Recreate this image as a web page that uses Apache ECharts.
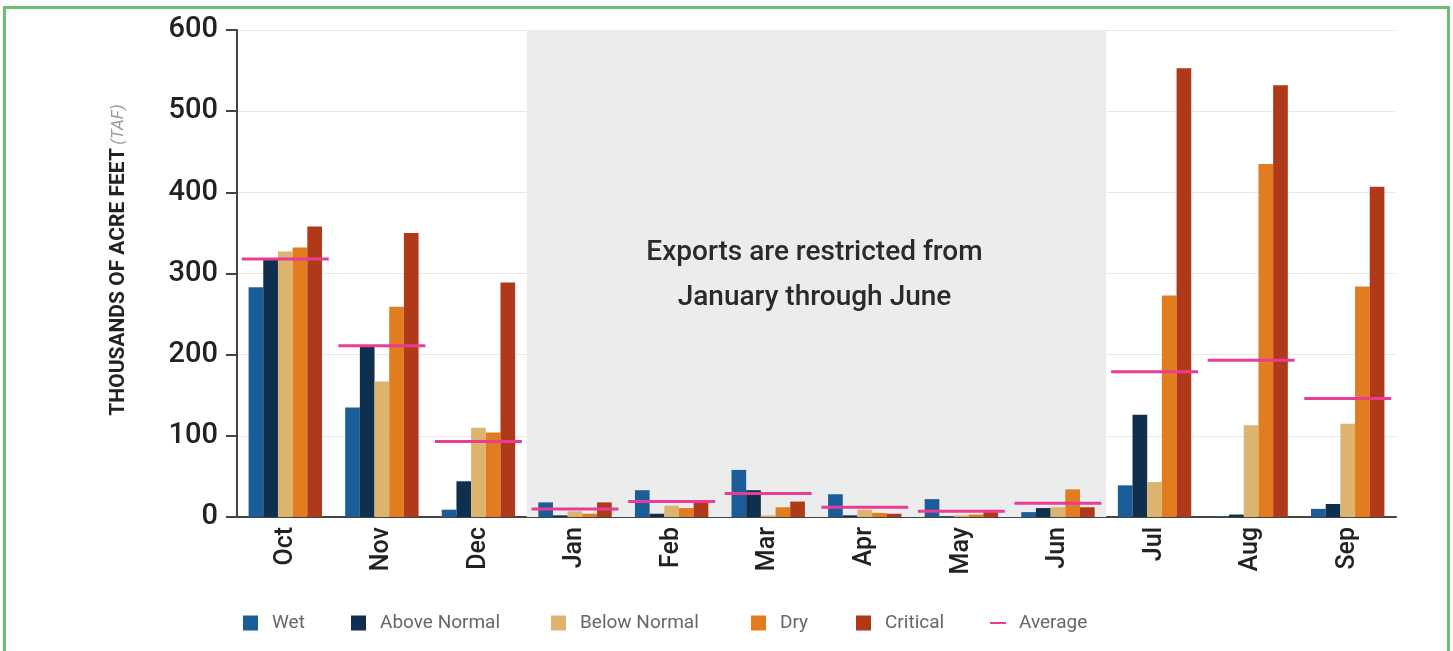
<!DOCTYPE html>
<html>
<head>
<meta charset="utf-8">
<script src="https://cdn.jsdelivr.net/npm/echarts@6/dist/echarts.min.js"></script>
<style>
html,body{margin:0;padding:0;background:#fff;}
#chart{position:absolute;left:0;top:0;width:1453px;height:651px;}
#frame{position:absolute;left:3px;top:6px;width:1441px;height:660px;border:3px solid #6dbf72;pointer-events:none;}
</style>
</head>
<body>
<div id="chart"></div>
<div id="frame"></div>
<script>
const months = ['Oct','Nov','Dec','Jan','Feb','Mar','Apr','May','Jun','Jul','Aug','Sep'];
const wet         = [283, 135,   9, 18, 33, 58, 28, 22,  6,  39,   1,  10];
const aboveNormal = [317, 211,  44,  2,  4, 33,  2,  1, 11, 126,   3,  16];
const belowNormal = [327, 167, 110,  7, 14,  2,  9,  2, 12,  43, 113, 115];
const dry         = [332, 259, 104,  4, 11, 12,  5,  3, 34, 273, 435, 284];
const critical    = [358, 350, 289, 18, 18, 19,  4,  6, 12, 553, 532, 407];
const average     = [318, 211,  93, 10, 19, 29, 12,  7, 17, 179, 193, 146];
const yMin = 0, yMax = 600, yInterval = 100;
const restrictedFrom = 'Jan', restrictedTo = 'Jun';
const restrictedText = 'Exports are restricted from\nJanuary through June';

const FONT = "'Roboto', sans-serif";
const colors = {
  'Wet': '#1a5d98',
  'Above Normal': '#0f2f4e',
  'Below Normal': '#ddb46e',
  'Dry': '#e27d1f',
  'Critical': '#b0391a',
  'Average': '#ea3c95'
};

const chart = echarts.init(document.getElementById('chart'));

function barSeries(name, data) {
  return {
    name, type: 'bar', data,
    barGap: '0%', barCategoryGap: '24%',
    itemStyle: { color: colors[name] },
    z: 3
  };
}

function legendFor(name, left, isLine) {
  return {
    data: [{ name, icon: 'rect' }],
    left, top: 613, padding: 0,
    itemWidth: isLine ? 16 : 15,
    itemHeight: isLine ? 2 : 15,
    selectedMode: false,
    textStyle: { fontFamily: FONT, fontSize: 19, color: '#666', lineHeight: 20, padding: [0, 0, 0, isLine ? 8 : 9] }
  };
}

const option = {
  animation: false,
  grid: { left: 237, right: 57, top: 30, bottom: 134, containLabel: false },
  legend: [
    legendFor('Wet', 243),
    legendFor('Above Normal', 351),
    legendFor('Below Normal', 551),
    legendFor('Dry', 751),
    legendFor('Critical', 856),
    legendFor('Average', 990, true)
  ],
  xAxis: {
    type: 'category', data: months,
    axisLine: { lineStyle: { color: '#444', width: 2 } },
    axisTick: { show: false },
    axisLabel: { rotate: 90, fontFamily: FONT, fontWeight: 500, fontSize: 25, color: '#222', margin: 10 }
  },
  yAxis: {
    type: 'value', min: yMin, max: yMax, interval: yInterval,
    name: '{b|THOUSANDS OF ACRE FEET} {i|(TAF)}',
    nameLocation: 'middle', nameGap: 108,
    nameTextStyle: {
      padding: [0, 0, 0, 27],
      rich: {
        b: { fontFamily: FONT, fontWeight: 'bold', fontSize: 21, color: '#222' },
        i: { fontFamily: FONT, fontStyle: 'italic', fontSize: 17, color: '#9a9a9a' }
      }
    },
    axisLine: { show: true, lineStyle: { color: '#444', width: 2 } },
    axisTick: { show: true, length: 11, lineStyle: { color: '#444', width: 2 } },
    axisLabel: { fontFamily: FONT, fontWeight: 500, fontSize: 29, color: '#222', margin: 19 },
    splitLine: { lineStyle: { color: '#e8e8e8', width: 1 } }
  },
  series: [
    {
      name: 'restricted', type: 'custom', z: 1, silent: true,
      data: [[months.indexOf(restrictedFrom), months.indexOf(restrictedTo)]],
      encode: { x: [0, 1] },
      renderItem: function (params, api) {
        const half = api.size([1, 0])[0] / 2;
        const pTop = api.coord([api.value(0), yMax]);
        const pBot = api.coord([api.value(1), yMin]);
        const x0 = pTop[0] - half, x1 = pBot[0] + half;
        const mid = api.coord([api.value(0), 298]);
        return {
          type: 'group',
          children: [
            { type: 'rect', shape: { x: x0, y: pTop[1], width: x1 - x0, height: pBot[1] - pTop[1] },
              style: { fill: '#ebecec' } },
            { type: 'text', style: { text: restrictedText, x: (x0 + x1) / 2 - 2, y: mid[1],
                align: 'center', verticalAlign: 'middle', fill: '#2a2a2a',
                font: "500 28px " + FONT, lineHeight: 45 } }
          ]
        };
      }
    },
    barSeries('Wet', wet),
    barSeries('Above Normal', aboveNormal),
    barSeries('Below Normal', belowNormal),
    barSeries('Dry', dry),
    barSeries('Critical', critical),
    {
      name: 'Average', type: 'custom', z: 5,
      itemStyle: { color: colors['Average'] },
      data: average.map((v, i) => [i, v]),
      encode: { x: 0, y: 1 },
      renderItem: function (params, api) {
        const c = api.coord([api.value(0), api.value(1)]);
        const w = api.size([1, 0])[0] * 0.9;
        return { type: 'rect', shape: { x: c[0] - w / 2, y: c[1] - 1.5, width: w, height: 3 },
          style: { fill: colors['Average'] } };
      }
    }
  ]
};
chart.setOption(option);
</script>
</body>
</html>
